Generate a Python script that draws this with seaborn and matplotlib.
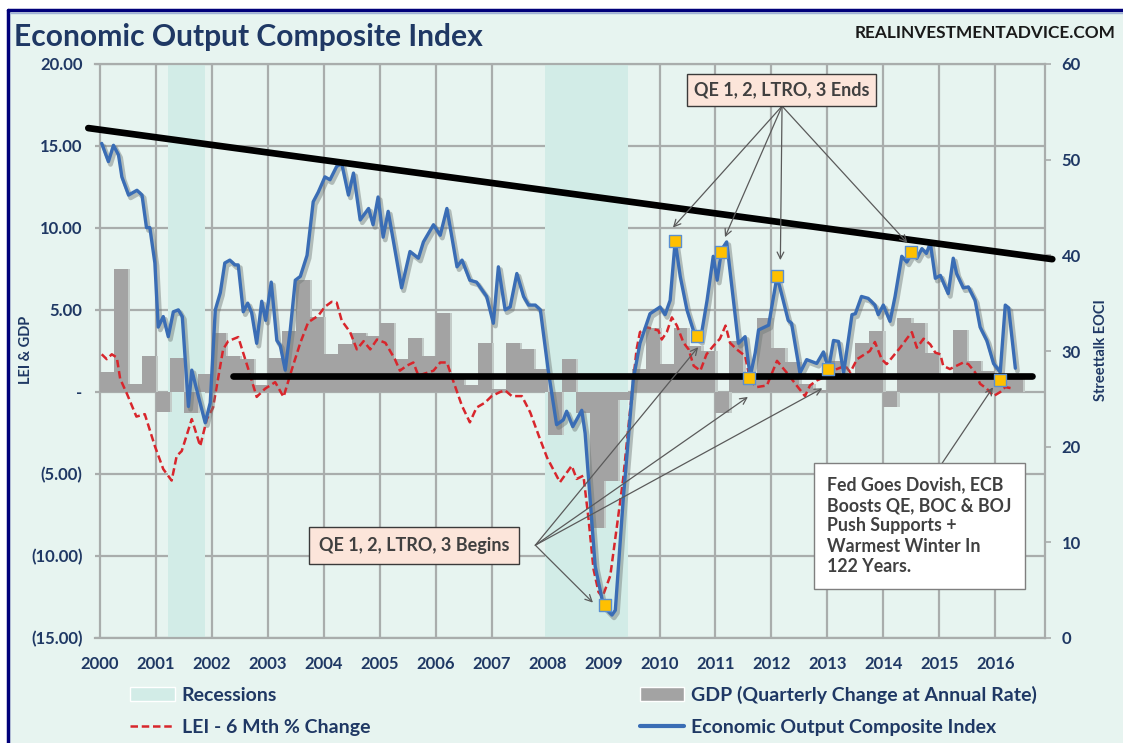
import matplotlib
matplotlib.use("Agg")
import matplotlib.pyplot as plt
import matplotlib.patheffects as pe
from matplotlib.patches import Patch, Rectangle
from matplotlib.lines import Line2D
import numpy as np
import pandas as pd
import seaborn as sns

# ---- data ----
rec_start = [2001.22, 2007.95]
rec_end = [2001.88, 2009.44]

# GDP, quarterly change at annual rate, 2000 Q1 .. 2016 Q2
gdp = [1.2, 7.5, 0.5, 2.2,
       -1.2, 2.1, -1.3, 1.1,
       3.6, 2.2, 2.0, 0.4,
       2.1, 3.7, 6.8, 4.6,
       2.3, 2.9, 3.6, 3.4,
       4.2, 2.0, 3.3, 2.2,
       4.8, 1.0, 0.4, 3.0,
       0.2, 3.0, 2.6, 1.4,
       -2.6, 2.0, -1.3, -8.3,
       -5.4, -0.5, 1.4, 3.9,
       1.7, 3.9, 2.8, 2.5,
       -1.3, 3.1, 0.9, 4.5,
       2.7, 1.8, 0.5, 0.1,
       1.9, 1.1, 3.0, 3.7,
       -0.9, 4.5, 4.2, 2.4,
       1.1, 3.8, 1.9, 1.3,
       0.8, 1.0]

lei_t = [2000.03, 2000.12, 2000.21, 2000.30, 2000.36, 2000.48, 2000.65, 2000.80, 2000.98, 2001.13,
         2001.28, 2001.37, 2001.46, 2001.64, 2001.79, 2001.91, 2002.02, 2002.20, 2002.29, 2002.47,
         2002.65, 2002.80, 2002.95, 2003.13, 2003.28, 2003.43, 2003.58, 2003.72, 2003.90, 2004.02,
         2004.14, 2004.23, 2004.32, 2004.47, 2004.59, 2004.71, 2004.83, 2004.95, 2005.10, 2005.27,
         2005.36, 2005.48, 2005.60, 2005.69, 2005.96, 2006.08, 2006.20, 2006.32, 2006.47, 2006.61,
         2006.73, 2006.88, 2007.00, 2007.15, 2007.24, 2007.36, 2007.54, 2007.69, 2007.84, 2007.99,
         2008.22, 2008.43, 2008.52, 2008.64, 2008.73, 2008.82, 2008.91, 2008.98, 2009.12, 2009.24,
         2009.35, 2009.47, 2009.59, 2009.65, 2009.77, 2009.98, 2010.04, 2010.13, 2010.22, 2010.31,
         2010.43, 2010.52, 2010.61, 2010.73, 2010.84, 2010.96, 2011.08, 2011.18, 2011.26, 2011.38,
         2011.53, 2011.62, 2011.74, 2011.92, 2012.10, 2012.27, 2012.45, 2012.60, 2012.69, 2012.81,
         2013.00, 2013.17, 2013.32, 2013.41, 2013.53, 2013.67, 2013.76, 2013.85, 2013.97, 2014.06,
         2014.18, 2014.30, 2014.42, 2014.51, 2014.60, 2014.72, 2014.84, 2014.93, 2015.02, 2015.07,
         2015.19, 2015.31, 2015.43, 2015.52, 2015.64, 2015.73, 2015.85, 2015.97, 2016.09, 2016.18,
         2016.33]
lei_v = [2.3, 2.0, 2.3, 2.1, 0.8, -0.1, -1.5, -1.35, -3.3, -4.7,
         -5.4, -3.9, -3.6, -1.65, -3.3, -1.65, -0.95, 2.6, 3.1, 3.35,
         1.4, -0.3, 0.2, 0.6, -0.3, 1.4, 3.0, 4.25, 4.65, 5.2,
         5.5, 5.45, 4.35, 3.65, 2.6, 3.1, 2.6, 3.2, 3.0, 2.0,
         1.3, 1.6, 1.8, 1.0, 1.3, 1.8, 1.8, 0.6, -0.85, -1.85,
         -0.95, -0.65, -0.25, 0.0, 0.1, -0.25, -0.25, -1.25, -2.65, -4.0,
         -5.5, -4.5, -5.3, -5.1, -7.7, -10.8, -12.2, -12.5, -11.2, -8.15,
         -5.3, -1.25, 2.6, 3.65, 3.95, 3.75, 3.2, 3.65, 4.55, 4.05,
         3.0, 2.6, 1.6, 1.3, 2.3, 2.8, 3.25, 4.05, 3.0, 2.6,
         2.2, 0.7, 0.3, 0.4, 1.9, 1.2, 0.4, -0.25, 0.4, 0.7,
         1.0, 1.4, 1.6, 1.2, 2.0, 2.3, 2.5, 3.05, 2.0, 1.7,
         2.2, 2.7, 3.25, 3.65, 2.7, 3.25, 2.9, 2.4, 2.3, 1.6,
         1.4, 1.6, 1.8, 1.7, 1.2, 0.5, 0.2, -0.25, 0.0, 0.3,
         0.2]

eoci_t = [2000.03, 2000.15, 2000.24, 2000.33, 2000.39, 2000.51, 2000.66, 2000.75, 2000.83, 2000.89,
          2000.98, 2001.04, 2001.13, 2001.22, 2001.31, 2001.40, 2001.47, 2001.58, 2001.64, 2001.73,
          2001.88, 2001.97, 2002.06, 2002.15, 2002.23, 2002.32, 2002.41, 2002.47, 2002.56, 2002.64,
          2002.71, 2002.80, 2002.89, 2002.96, 2003.06, 2003.16, 2003.22, 2003.31, 2003.40, 2003.49,
          2003.58, 2003.70, 2003.81, 2003.90, 2004.02, 2004.11, 2004.23, 2004.32, 2004.44, 2004.53,
          2004.65, 2004.80, 2004.88, 2004.97, 2005.06, 2005.15, 2005.39, 2005.54, 2005.69, 2005.78,
          2005.96, 2006.08, 2006.20, 2006.38, 2006.47, 2006.61, 2006.73, 2006.91, 2007.03, 2007.12,
          2007.24, 2007.33, 2007.45, 2007.57, 2007.66, 2007.78, 2007.87, 2008.01, 2008.16, 2008.28,
          2008.34, 2008.45, 2008.61, 2008.67, 2008.76, 2008.85, 2009.00, 2009.15, 2009.21, 2009.35,
          2009.53, 2009.65, 2009.83, 2010.01, 2010.10, 2010.19, 2010.28, 2010.37, 2010.49, 2010.64,
          2010.73, 2010.85, 2010.96, 2011.03, 2011.11, 2011.20, 2011.32, 2011.41, 2011.53, 2011.62,
          2011.71, 2011.77, 2011.95, 2012.10, 2012.18, 2012.30, 2012.36, 2012.51, 2012.63, 2012.81,
          2012.93, 2013.02, 2013.11, 2013.20, 2013.29, 2013.44, 2013.50, 2013.61, 2013.73, 2013.85,
          2013.91, 2014.00, 2014.12, 2014.21, 2014.33, 2014.42, 2014.51, 2014.60, 2014.69, 2014.77,
          2014.84, 2014.93, 2015.02, 2015.16, 2015.25, 2015.31, 2015.43, 2015.52, 2015.64, 2015.73,
          2015.85, 2015.97, 2016.09, 2016.18, 2016.24, 2016.36]
eoci_v = [51.7, 49.8, 51.5, 50.5, 48.2, 46.3, 46.8, 46.3, 42.9, 42.9,
          39.2, 32.5, 33.6, 31.5, 34.1, 34.3, 33.6, 24.2, 28.0, 25.9,
          22.5, 24.6, 34.3, 36.1, 39.2, 39.5, 39.0, 39.0, 34.1, 35.0,
          34.0, 30.8, 35.2, 33.2, 37.2, 31.1, 30.6, 28.0, 32.2, 37.4,
          37.8, 40.0, 45.6, 46.6, 48.2, 47.9, 49.3, 49.6, 46.3, 48.6,
          43.7, 44.9, 43.2, 46.1, 41.9, 44.6, 36.6, 40.4, 39.7, 41.4,
          43.2, 42.1, 44.9, 38.8, 39.5, 37.4, 37.2, 35.7, 32.9, 38.8,
          34.3, 34.6, 38.1, 35.7, 34.8, 34.8, 34.3, 28.0, 22.3, 22.8,
          23.7, 22.1, 23.8, 21.4, 14.4, 7.5, 3.3, 2.4, 2.9, 14.4,
          27.0, 30.8, 33.9, 34.6, 33.8, 35.3, 41.5, 37.8, 34.3, 31.5,
          31.1, 35.3, 39.9, 37.4, 40.6, 41.4, 35.3, 30.8, 31.5, 27.3,
          29.8, 32.2, 32.7, 37.8, 36.0, 33.2, 32.9, 27.7, 29.1, 28.7,
          29.9, 28.1, 31.1, 31.0, 27.7, 33.8, 33.9, 35.7, 35.5, 34.8,
          33.8, 34.8, 33.1, 35.7, 39.9, 39.3, 40.2, 39.7, 40.7, 40.2,
          41.3, 37.6, 37.9, 36.0, 39.7, 38.1, 36.6, 36.7, 35.3, 32.5,
          31.1, 28.7, 27.8, 34.8, 34.5, 28.2]

# highlighted points on the EOCI line
mark_t = [2009.03, 2010.28, 2010.67, 2011.10, 2011.60, 2012.10, 2013.02, 2014.50, 2016.09]
mark_v = [3.4, 41.5, 31.6, 40.4, 27.2, 37.8, 28.1, 40.3, 27.0]

# hand-drawn trend lines (right axis units)
top_trend_t = [1999.79, 2017.02]
top_trend_v = [53.3, 39.6]
low_trend_t = [2002.37, 2016.65]
low_trend_v = [27.4, 27.4]

years = list(range(2000, 2017))
left_ticks = [20, 15, 10, 5, 0, -5, -10, -15]
left_labels = ["20.00", "15.00", "10.00", "5.00", "-", "(5.00)", "(10.00)", "(15.00)"]
right_ticks = [0, 10, 20, 30, 40, 50, 60]

# ---- style ----
BG = "#e7f4f0"
BAND = "#d2ece7"
GRID = "#a9adac"
BAR = "#a3a3a3"
BLUE = "#3a6db5"
RED = "#d8262c"
NAVY = "#1f3864"
BOXTXT = "#404040"

sns.set_theme(style="white")
plt.rcParams["font.family"] = ["Lato", "DejaVu Sans"]

W, H = 1123, 743
fig = plt.figure(figsize=(W / 100, H / 100), dpi=100, facecolor="white")
fig.patches.append(Rectangle((8 / W, 0), 1, 1 - 10 / H, transform=fig.transFigure,
                             facecolor=BG, edgecolor="none", zorder=-10))
fig.lines.append(Line2D([8 / W, 1], [1 - 10 / H, 1 - 10 / H], transform=fig.transFigure,
                        color="#00007a", lw=2.5))
fig.lines.append(Line2D([8 / W, 8 / W], [0, 1 - 10 / H], transform=fig.transFigure,
                        color="#00007a", lw=2.5))
fig.lines.append(Line2D([10 / W, 1], [1 - 13 / H, 1 - 13 / H], transform=fig.transFigure,
                        color="#9fb2d6", lw=1))

ax = fig.add_axes([95 / W, 1 - 638 / H, 950 / W, 574 / H])
ax.set_facecolor(BG)
ax2 = ax.twinx()
ax2.patch.set_visible(False)

# left axis: grid, recessions, GDP bars, LEI
ax.set_xlim(1999.91, 2016.89)
ax.set_ylim(-15, 20)
ax.set_xticks(years)
ax.set_xticklabels([str(y) for y in years])
ax.set_yticks(left_ticks)
ax.set_yticklabels(left_labels)
ax.grid(True, color=GRID, lw=1.6, zorder=0)
ax.set_axisbelow(True)

for s, e in zip(rec_start, rec_end):
    ax.axvspan(s, e, color=BAND, lw=0, zorder=1)

gdp_df = pd.DataFrame({"start": [2000 + i / 4 for i in range(len(gdp))], "gdp": gdp})
ax.bar(gdp_df["start"] + 0.04, gdp_df["gdp"], width=0.25, align="edge",
       color="#c3cbc8", lw=0, zorder=1.5)
ax.bar(gdp_df["start"], gdp_df["gdp"], width=0.25, align="edge", color=BAR, lw=0, zorder=2)

lei_df = pd.DataFrame({"t": lei_t, "v": lei_v})
sns.lineplot(data=lei_df, x="t", y="v", ax=ax, color=RED, lw=1.8,
             linestyle=(0, (3, 1.5)), zorder=3)

# right axis: EOCI, markers, trend lines
ax2.set_ylim(0, 60)
ax2.set_yticks(right_ticks)
eoci_df = pd.DataFrame({"t": eoci_t, "v": eoci_v})
sns.lineplot(data=eoci_df, x="t", y="v", ax=ax2, color=BLUE, lw=2.4, zorder=4,
             path_effects=[pe.SimpleLineShadow(offset=(1.5, -2), shadow_color="#6f7775",
                                               alpha=0.45, linewidth=3.5),
                           pe.Normal()])
ax2.plot(top_trend_t, top_trend_v, color="black", lw=4.8, solid_capstyle="round",
         clip_on=False, zorder=6)
ax2.plot(low_trend_t, low_trend_v, color="black", lw=4.8, solid_capstyle="round", zorder=5)
sns.scatterplot(x=mark_t, y=mark_v, ax=ax2, marker="s", s=80, color="#ffc000",
                edgecolor="#5b8fd0", linewidth=1, zorder=7)

for a in (ax, ax2):
    a.set_xlabel("")
    a.set_ylabel("")
    for sp in a.spines.values():
        sp.set_visible(False)
ax2.spines["right"].set_visible(True)
ax2.spines["right"].set_color(GRID)
ax2.spines["right"].set_linewidth(1.6)
for side in ("bottom", "top"):
    ax.spines[side].set_visible(True)
    ax.spines[side].set_color(GRID)
    ax.spines[side].set_linewidth(1.6)

ax.tick_params(axis="x", length=0, pad=13, labelcolor=NAVY)
ax.tick_params(axis="y", length=0, pad=9, labelcolor=NAVY)
ax2.tick_params(axis="y", length=4, width=1.2, color=GRID, direction="out", pad=8,
                labelcolor=NAVY, right=True)
for lab in ax.get_xticklabels() + ax.get_yticklabels() + ax2.get_yticklabels():
    lab.set_fontsize(12)
    lab.set_fontweight("bold")

# titles and axis names
fig.text(14 / W, 1 - 37 / H, "Economic Output Composite Index", fontsize=21.6,
         fontweight="bold", color=NAVY, va="center", ha="left")
fig.text(1115 / W, 1 - 33 / H, "REALINVESTMENTADVICE.COM", fontsize=12.4,
         fontweight="bold", color="#1a1a1a", va="center", ha="right")
fig.text(26 / W, 1 - 350 / H, "LEI & GDP", rotation=90, fontsize=10.5, fontweight="bold",
         color=NAVY, va="center", ha="center")
fig.text(1101 / W, 1 - 350 / H, "Streettalk EOCI", rotation=90, fontsize=10.5,
         fontweight="bold", color=NAVY, va="center", ha="center")

# callouts
arrow_kw = dict(arrowstyle="->", color="#5a5a5a", lw=0.9, shrinkA=0, shrinkB=0)
ax2.text(2012.18, 57.3, "QE 1, 2, LTRO, 3 Ends", ha="center", va="center", fontsize=13,
         fontweight="bold", color=BOXTXT, zorder=9,
         bbox=dict(boxstyle="square,pad=0.4", fc="#fce5da", ec="#3a3a3a", lw=1))
for tx, ty in [(2010.24, 42.9), (2011.17, 41.9), (2012.16, 39.5), (2014.43, 41.3)]:
    ax2.annotate("", xy=(tx, ty), xytext=(2012.19, 55.6), arrowprops=arrow_kw, zorder=8)

ax2.text(2005.61, 9.67, "QE 1, 2, LTRO, 3 Begins", ha="center", va="center", fontsize=13,
         fontweight="bold", color=BOXTXT, zorder=9,
         bbox=dict(boxstyle="square,pad=0.55", fc="#fce5da", ec="#3a3a3a", lw=1))
for tx, ty in [(2008.81, 3.7), (2010.69, 30.4), (2011.58, 25.2), (2012.91, 26.1)]:
    ax2.annotate("", xy=(tx, ty), xytext=(2007.78, 9.7), arrowprops=arrow_kw, zorder=8)

ax2.annotate("", xy=(2015.96, 26.2), xytext=(2015.02, 18.0), arrowprops=arrow_kw, zorder=8)
ax2.text(2013.0, 16.9,
         "Fed Goes Dovish, ECB\nBoosts QE, BOC & BOJ\nPush Supports +\nWarmest Winter In\n122 Years.",
         ha="left", va="top", fontsize=12.8, fontweight="bold", color=BOXTXT, linespacing=1.25,
         zorder=9, bbox=dict(boxstyle="square,pad=0.75", fc="white", ec="#7f7f7f", lw=1))

# legend
handles = [Patch(facecolor=BAND, label="Recessions"),
           Line2D([], [], color=RED, lw=1.8, ls=(0, (3, 1.5)), label="LEI - 6 Mth % Change"),
           Patch(facecolor=BAR, label="GDP (Quarterly Change at Annual Rate)"),
           Line2D([], [], color=BLUE, lw=3, label="Economic Output Composite Index")]
fig.legend(handles=handles, ncol=2, loc="upper left", bbox_to_anchor=(130 / W, 1 - 686 / H),
           frameon=False, prop=dict(weight="bold", size=14), labelcolor=NAVY,
           handlelength=2.3, handletextpad=0.36, columnspacing=13.85, labelspacing=0.78,
           borderpad=0, borderaxespad=0)

fig.savefig("out.png", dpi=100, facecolor="white")
